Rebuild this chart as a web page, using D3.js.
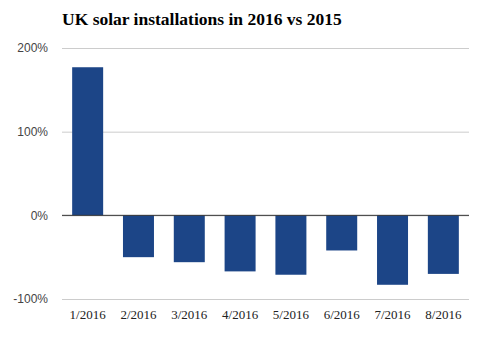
<!DOCTYPE html>
<html><head><meta charset="utf-8">
<script src="https://cdn.jsdelivr.net/npm/d3@7"></script>
<style>body{margin:0;background:#fff;}svg{display:block;}</style>
</head><body>
<script>
const categories = ["1/2016","2/2016","3/2016","4/2016","5/2016","6/2016","7/2016","8/2016"];
const values = [177, -50, -56, -67, -71, -42, -83, -70];
const yTicks = [-100, 0, 100, 200];
const title = "UK solar installations in 2016 vs 2015";

const W = 489, H = 341;
const svg = d3.select("body").append("svg").attr("width", W).attr("height", H);
const x = d3.scaleBand().domain(categories).range([62, 469]).paddingInner(0.39).paddingOuter(0.2);
const y = d3.scaleLinear().domain([-100, 200]).range([299, 48]);

svg.append("text").attr("x", 62).attr("y", 25)
  .attr("font-family", "Liberation Serif, Times New Roman, serif")
  .attr("font-weight", "bold").attr("font-size", 17.5).attr("fill", "#000")
  .text(title);

const yAxis = d3.axisLeft(y).tickValues(yTicks).tickSize(-(469-62)).tickPadding(14)
  .tickFormat(d => d + "%");
const gy = svg.append("g").attr("transform", "translate(62,0)").call(yAxis);
gy.select(".domain").remove();
gy.selectAll(".tick line").attr("stroke", "#cccccc");
gy.selectAll(".tick text").attr("font-family", "Liberation Sans, Arial, sans-serif")
  .attr("font-size", 12).attr("fill", "#444");

svg.append("g").selectAll("rect").data(values).join("rect")
  .attr("x", (d, i) => x(categories[i]))
  .attr("width", x.bandwidth())
  .attr("y", d => y(Math.max(0, d)))
  .attr("height", d => Math.abs(y(d) - y(0)))
  .attr("fill", "#1c4587");

svg.append("line").attr("x1", 62).attr("x2", 469).attr("y1", y(0)).attr("y2", y(0))
  .attr("stroke", "#333").attr("stroke-width", 1);

const xAxis = d3.axisBottom(x).tickSize(0).tickPadding(0);
const gx = svg.append("g").attr("transform", "translate(0,310)").call(xAxis);
gx.select(".domain").remove();
gx.selectAll(".tick text").attr("font-family", "Liberation Serif, Times New Roman, serif")
  .attr("font-size", 13).attr("fill", "#222").attr("dy", "0.71em");
</script>
</body></html>
